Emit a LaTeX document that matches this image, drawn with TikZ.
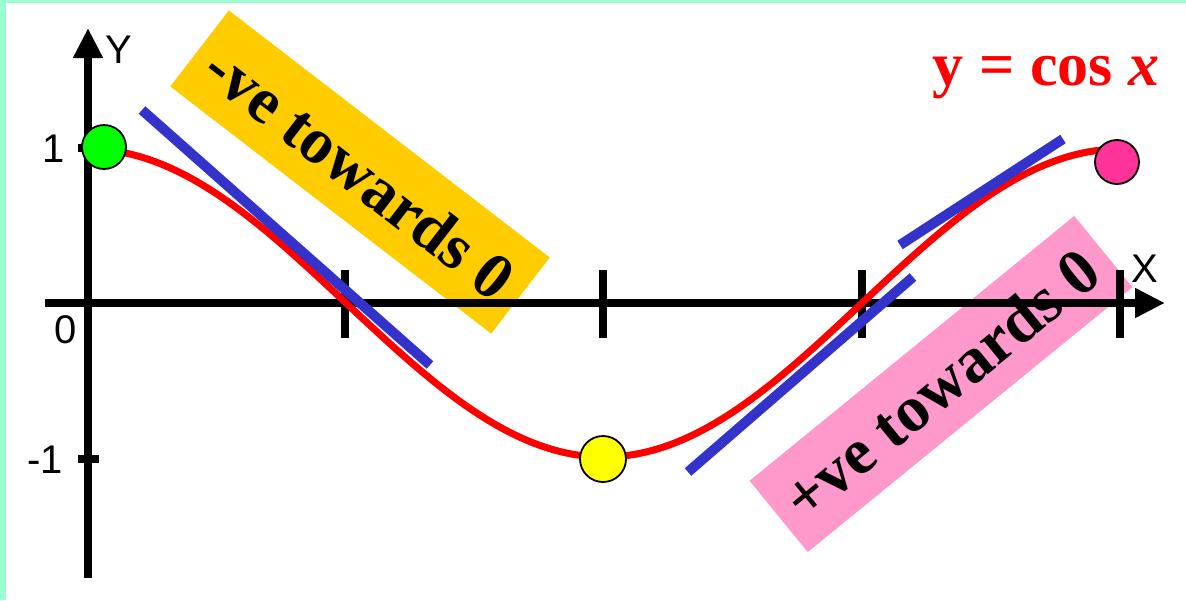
\documentclass[tikz,border=0pt]{standalone}
\usepackage{fontspec}
\setmainfont{Liberation Serif}
\setsansfont{Liberation Sans}
\usetikzlibrary{arrows.meta}
\definecolor{bordergreen}{RGB}{153,255,204}
\definecolor{boxyellow}{RGB}{255,204,0}
\definecolor{boxpink}{RGB}{255,153,204}
\definecolor{tanblue}{RGB}{51,51,204}
\definecolor{dotpink}{RGB}{255,51,153}
\definecolor{dotgreen}{RGB}{0,255,0}
\definecolor{dotyellow}{RGB}{255,255,0}
\tikzset{
  axisline/.style={line width=8pt, black},
  ticks/.style={line width=8pt, black},
  tangent/.style={line width=10pt, tanblue},
  curveline/.style={line width=7pt, red},
  dot/.style={circle, draw=black, line width=1.8pt, minimum size=#1, inner sep=0pt},
  axlabel/.style={font=\sffamily\fontsize{40}{40}\selectfont, inner sep=0pt, anchor=base},
  notebox/.style={font=\bfseries\fontsize{65}{65}\selectfont, inner sep=0pt, text=black}
}
\begin{document}
\begin{tikzpicture}[x=1pt,y=-1pt]
\useasboundingbox (0,0) rectangle (1186,600);
\fill[white] (0,0) rectangle (1186,600);
\fill[bordergreen] (0,0) rectangle (1186,3);
\fill[bordergreen] (0,0) rectangle (6,600);

% boxes
\node[notebox, fill=boxyellow, minimum width=405pt, minimum height=96pt, rotate=-37.6] (neg) at (360,172) {-ve towards 0};
\node[notebox, fill=boxpink, minimum width=419pt, minimum height=92pt, rotate=39.2] (pos) at (941,384) {+ve towards 0};

% axes
\coordinate (ybot) at (88,578);
\coordinate (ytop) at (88,28);
\coordinate (xleft) at (45,303);
\coordinate (xright) at (1165,303);
\draw[axisline, -{Triangle[length=30pt,width=28pt]}] (ybot) -- (ytop);
\draw[axisline, -{Triangle[length=30pt,width=28pt]}] (xleft) -- (xright);
\foreach \t in {345,603,862,1120} \draw[ticks] (\t,270) -- (\t,338);
\draw[ticks] (78,148) -- (92,148);
\draw[ticks] (78,459) -- (99,459);

% labels
\node[axlabel] (ly) at (119,63) {Y};
\node[axlabel] (lx) at (1145,282) {X};
\node[axlabel] (l1) at (54,162) {1};
\node[axlabel] (l0) at (66,343) {0};
\node[axlabel] (lm1) at (45,473) {-1};

% curve
\draw[curveline] plot[domain=104:1117, samples=250] (\x, {303-154*cos(0.348837*(\x-88))});

% tangents
\draw[tangent] (142,110) -- (430,365);
\draw[tangent] (688,472) -- (913,277);
\draw[tangent] (900,245) -- (1063,139);

% dots
\node[dot=44pt, fill=dotgreen] (g) at (104,147) {};
\node[dot=46pt, fill=dotyellow] (yl) at (603,459) {};
\node[dot=44pt, fill=dotpink] (p) at (1117,162) {};

% title
\node[font=\bfseries\fontsize{62}{62}\selectfont, text=red, inner sep=0pt, anchor=base] (title) at (1046,85) {y = cos \textit{x}};
\end{tikzpicture}
\end{document}
